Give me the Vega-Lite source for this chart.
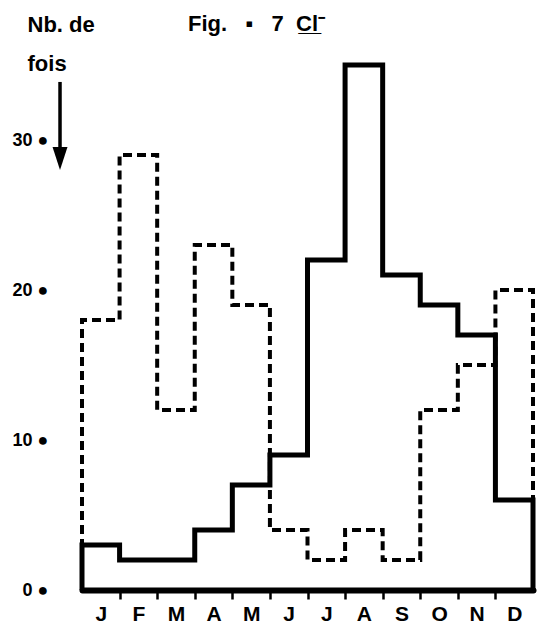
{
  "$schema": "https://vega.github.io/schema/vega-lite/v6.json",
  "autosize": "none",
  "width": 451,
  "height": 540,
  "padding": {"left": 82, "top": 50, "right": 10, "bottom": 41},
  "background": "white",
  "config": {"view": {"stroke": null}, "font": "Liberation Sans"},
  "datasets": {
    "series": [
      {"serie": "solid", "k": 0, "mois": 0, "nb": 0},
      {"serie": "solid", "k": 1, "mois": 0, "nb": 3},
      {"serie": "solid", "k": 2, "mois": 1, "nb": 2},
      {"serie": "solid", "k": 3, "mois": 2, "nb": 2},
      {"serie": "solid", "k": 4, "mois": 3, "nb": 4},
      {"serie": "solid", "k": 5, "mois": 4, "nb": 7},
      {"serie": "solid", "k": 6, "mois": 5, "nb": 9},
      {"serie": "solid", "k": 7, "mois": 6, "nb": 22},
      {"serie": "solid", "k": 8, "mois": 7, "nb": 35},
      {"serie": "solid", "k": 9, "mois": 8, "nb": 21},
      {"serie": "solid", "k": 10, "mois": 9, "nb": 19},
      {"serie": "solid", "k": 11, "mois": 10, "nb": 17},
      {"serie": "solid", "k": 12, "mois": 11, "nb": 6},
      {"serie": "solid", "k": 13, "mois": 12, "nb": 6},
      {"serie": "solid", "k": 14, "mois": 12, "nb": 0},
      {"serie": "dashed", "k": 0, "mois": 0, "nb": 0},
      {"serie": "dashed", "k": 1, "mois": 0, "nb": 18},
      {"serie": "dashed", "k": 2, "mois": 1, "nb": 29},
      {"serie": "dashed", "k": 3, "mois": 2, "nb": 12},
      {"serie": "dashed", "k": 4, "mois": 3, "nb": 23},
      {"serie": "dashed", "k": 5, "mois": 4, "nb": 19},
      {"serie": "dashed", "k": 6, "mois": 5, "nb": 4},
      {"serie": "dashed", "k": 7, "mois": 6, "nb": 2},
      {"serie": "dashed", "k": 8, "mois": 7, "nb": 4},
      {"serie": "dashed", "k": 9, "mois": 8, "nb": 2},
      {"serie": "dashed", "k": 10, "mois": 9, "nb": 12},
      {"serie": "dashed", "k": 11, "mois": 10, "nb": 15},
      {"serie": "dashed", "k": 12, "mois": 11, "nb": 20},
      {"serie": "dashed", "k": 13, "mois": 12, "nb": 20},
      {"serie": "dashed", "k": 14, "mois": 12, "nb": 0}
    ],
    "one": [{"a": 1}]
  },
  "layer": [
    {
      "data": {"name": "series"},
      "transform": [{"filter": "datum.serie == 'dashed'"}],
      "mark": {"type": "line", "interpolate": "step-after", "color": "black", "strokeWidth": 4, "strokeDash": [9, 5], "strokeCap": "butt"},
      "encoding": {
        "x": {"field": "mois", "type": "quantitative",
              "scale": {"domain": [0, 12], "nice": false, "zero": false},
              "axis": {
                "title": null,
                "values": [0, 1, 2, 3, 4, 5, 6, 7, 8, 9, 10, 11],
                "labelExpr": "['J','F','M','A','M','J','J','A','S','O','N','D'][datum.value]",
                "labelOffset": 18.8,
                "labelOverlap": false, "labelFlush": false, "labelBound": false,
                "labelFont": "Liberation Sans", "labelFontSize": 21, "labelFontWeight": "bold", "labelColor": "black",
                "labelPadding": 4,
                "domainColor": "black", "domainWidth": 6, "domainCap": "round",
                "ticks": true,
                "tickColor": "black",
                "tickOpacity": {"condition": {"test": "datum.value == 0", "value": 0}, "value": 1},
                "tickWidth": 2.5, "tickSize": 9,
                "grid": false
              }},
        "y": {"field": "nb", "type": "quantitative",
              "scale": {"domain": [0, 36], "nice": false},
              "axis": {
                "values": [0, 10, 20, 30],
                "labelExpr": "datum.label + ' ●'",
                "labelFont": "Liberation Sans", "labelFontSize": 18, "labelFontWeight": "bold", "labelColor": "black",
                "labelPadding": 34,
                "ticks": false, "domain": false, "grid": false,
                "title": ["Nb. de", "fois"],
                "titleAngle": 0, "titleAlign": "left", "titleBaseline": "alphabetic",
                "titleX": -55, "titleY": -19,
                "titleFont": "Liberation Sans", "titleFontSize": 22, "titleFontWeight": "bold", "titleColor": "black",
                "titleLineHeight": 39
              }},
        "order": {"field": "k", "type": "quantitative"}
      }
    },
    {
      "data": {"name": "series"},
      "transform": [{"filter": "datum.serie == 'solid'"}],
      "mark": {"type": "line", "interpolate": "step-after", "color": "black", "strokeWidth": 5, "strokeJoin": "miter"},
      "encoding": {
        "x": {"field": "mois", "type": "quantitative"},
        "y": {"field": "nb", "type": "quantitative"},
        "order": {"field": "k", "type": "quantitative"}
      }
    },
    {
      "data": {"name": "one"},
      "mark": {"type": "rule", "color": "black", "strokeWidth": 3.5, "clip": false},
      "encoding": {
        "x": {"datum": -0.585, "type": "quantitative"},
        "y": {"datum": 33.87, "type": "quantitative"},
        "y2": {"datum": 29.47}
      }
    },
    {
      "data": {"name": "one"},
      "mark": {"type": "point", "shape": "M-0.65,-1L0.65,-1L0,1Z", "filled": true, "color": "black", "opacity": 1, "size": 529, "clip": false},
      "encoding": {
        "x": {"datum": -0.585, "type": "quantitative"},
        "y": {"datum": 28.77, "type": "quantitative"}
      }
    },
    {
      "data": {"name": "one"},
      "mark": {"type": "text", "text": "Fig.\u00a0\u00a0 ▪\u00a0\u00a0 7\u00a0 C̲l̲⁻", "align": "left", "baseline": "alphabetic", "font": "Liberation Sans", "fontSize": 22, "fontWeight": "bold", "color": "black", "clip": false},
      "encoding": {
        "x": {"datum": 2.82, "type": "quantitative"},
        "y": {"datum": 37.27, "type": "quantitative"}
      }
    }
  ]
}
